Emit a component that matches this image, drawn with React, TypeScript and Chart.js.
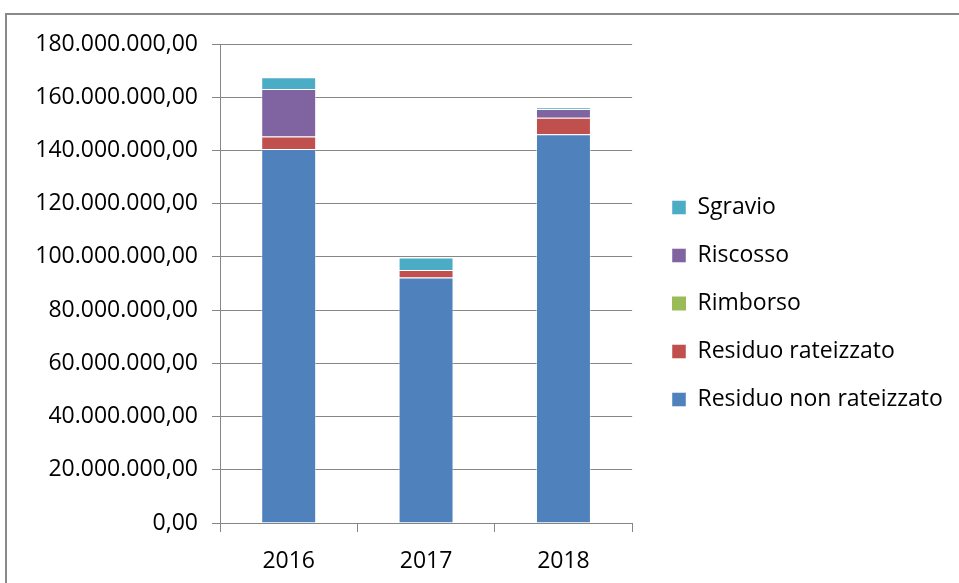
import React, { useEffect, useRef } from "react";
import { Chart, registerables } from "chart.js";

Chart.register(...registerables);

const years = ["2016", "2017", "2018"];
const residuoNonRateizzato = [140500000, 92300000, 146100000];
const residuoRateizzato = [4700000, 2800000, 6200000];
const rimborso = [0, 0, 0];
const riscosso = [17900000, 0, 3300000];
const sgravio = [4400000, 4700000, 600000];

const FONT = "'Open Sans', sans-serif";

function fmt(v: number): string {
  const n = Math.round(v);
  const s = String(n).replace(/\B(?=(\d{3})+(?!\d))/g, ".");
  return s + ",00";
}

const legendShift = {
  id: "legendShift",
  afterLayout(chart: any) {
    const l = chart.legend;
    if (l) {
      const dx = 672 - 25 - l.left;
      l.left += dx;
      l.right += dx;
      l.top -= 10;
      l.bottom -= 10;
    }
  },
};

export default function App() {
  const ref = useRef<HTMLCanvasElement>(null);
  useEffect(() => {
    if (!ref.current) return;
    const edge = "rgba(255,255,255,0.45)";
    const chart = new Chart(ref.current, {
      type: "bar",
      data: {
        labels: years,
        datasets: [
          { label: "Residuo non rateizzato", data: residuoNonRateizzato, backgroundColor: "#4F81BD", borderColor: edge, borderWidth: 1 },
          { label: "Residuo rateizzato", data: residuoRateizzato, backgroundColor: "#C0504D", borderColor: edge, borderWidth: 1 },
          { label: "Rimborso", data: rimborso, backgroundColor: "#9BBB59", borderColor: edge, borderWidth: 0 },
          { label: "Riscosso", data: riscosso, backgroundColor: "#8064A2", borderColor: edge, borderWidth: 1 },
          { label: "Sgravio", data: sgravio, backgroundColor: "#4BACC6", borderColor: edge, borderWidth: 1 },
        ],
      },
      options: {
        animation: false,
        responsive: false,
        devicePixelRatio: 1,
        layout: { padding: { left: 20, top: 44, right: 21, bottom: 0 } },
        datasets: { bar: { categoryPercentage: 1, barPercentage: 0.4 } },
        plugins: {
          tooltip: { enabled: false },
          legend: {
            position: "right",
            reverse: true,
            maxWidth: 500,
            labels: {
              boxWidth: 14,
              boxHeight: 14,
              padding: 25,
              color: "#000",
              font: { family: FONT, size: 23 },
            },
          },
        },
        scales: {
          x: {
            stacked: true,
            afterFit: (s: any) => {
              s.height = 60;
            },
            grid: {
              drawOnChartArea: false,
              drawTicks: true,
              tickLength: 9,
              color: "#868686",
              offset: true,
            },
            border: { color: "#868686", width: 1 },
            ticks: { color: "#000", padding: 16, font: { family: FONT, size: 23 } },
          },
          y: {
            stacked: true,
            min: 0,
            max: 180000000,
            afterFit: (s: any) => {
              s.width = 200;
            },
            grid: { color: "#868686", tickLength: 8, lineWidth: 1 },
            border: { color: "#868686", width: 1 },
            ticks: {
              stepSize: 20000000,
              padding: 14,
              color: "#000",
              font: { family: FONT, size: 23 },
              callback: (v: any) => fmt(Number(v)),
            },
          },
        },
      },
      plugins: [legendShift],
    });
    return () => chart.destroy();
  }, []);
  return (
    <div style={{ position: "fixed", left: 0, top: 0, width: 959, height: 583, background: "#fff" }}>
      <canvas ref={ref} width={959} height={583} style={{ position: "absolute", left: 0, top: 0 }} />
      <div
        style={{
          position: "absolute",
          left: 5,
          top: 13,
          width: 1000,
          height: 1000,
          borderLeft: "2px solid #898989",
          borderTop: "2px solid #898989",
          pointerEvents: "none",
        }}
      />
    </div>
  );
}
